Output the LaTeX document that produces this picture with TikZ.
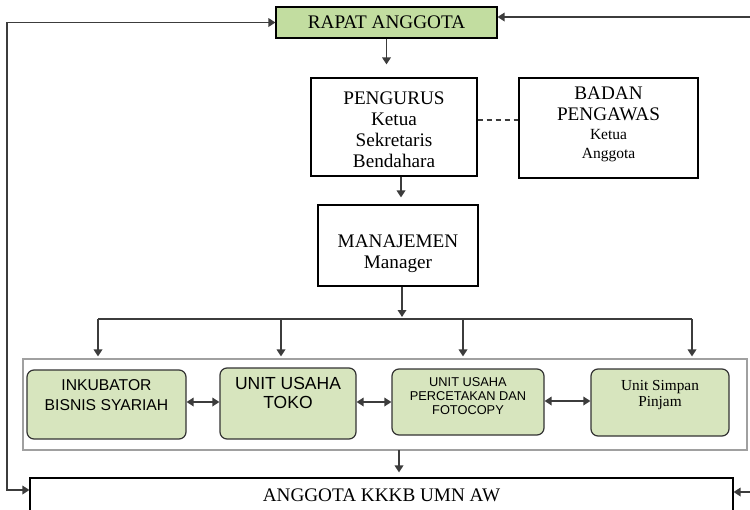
\documentclass[tikz,border=0pt]{standalone}
\usepackage{fontspec}
\setmainfont{Liberation Serif}
\newfontfamily\arialf{Liberation Sans}
\usetikzlibrary{arrows.meta}

\definecolor{rapatgreen}{RGB}{194,221,160}
\definecolor{unitgreen}{RGB}{215,229,190}
\definecolor{linegray}{RGB}{60,60,60}
\definecolor{framegray}{RGB}{160,160,160}

\tikzset{
  box/.style={draw=black, line width=1.1pt, inner sep=0pt, align=center},
  unit/.style={draw=black!80, line width=1.2pt, rounded corners=7pt, fill=unitgreen, inner sep=0pt},
  utext/.style={align=center, inner sep=0pt},
  conn/.style={draw=linegray, line width=1.7pt},
  arr/.style={conn, -{Triangle[length=7pt,width=8.5pt]}},
  biarr/.style={conn, {Triangle[length=7pt,width=8.5pt]}-{Triangle[length=7pt,width=8.5pt]}},
  serifbig/.style={font=\fontsize{19.2}{21}\selectfont},
}

\begin{document}
\begin{tikzpicture}[x=1pt,y=-1pt]
\clip (0,0) rectangle (750,509);
\fill[white] (0,0) rectangle (750,509);

% governing bodies
\node[box, fill=rapatgreen, minimum width=221pt, minimum height=31pt, serifbig]
  (rapat) at (386.5,22.5) {RAPAT ANGGOTA};
\node[box, minimum width=166pt, minimum height=98pt] (pengurus) at (394,127) {};
\node[utext, serifbig] (pengurusT) at (394,129.5)
  {PENGURUS\\Ketua\\Sekretaris\\Bendahara};
\node[box, minimum width=179pt, minimum height=100pt]
  (badan) at (608.5,128) {};
\node[utext, serifbig] (badanT) at (608.5,103.5)
  {BADAN\\PENGAWAS};
\node[utext, font=\fontsize{15.5}{19}\selectfont] (badanS) at (608.5,146)
  {Ketua\\Anggota};
\node[box, minimum width=160pt, minimum height=81pt] (manaj) at (398,245.5) {};
\node[utext, serifbig] (manajT) at (398,254)
  {MANAJEMEN\\Manager};

% business units
\node[draw=framegray, line width=1.1pt, minimum width=724pt, minimum height=91pt, inner sep=0pt]
  (outer) at (385,404.5) {};
\node[unit, minimum width=159pt, minimum height=69pt] (ink) at (106.5,404.5) {};
\node[utext, font=\arialf\fontsize{15.7}{19.5}\selectfont] (inkT) at (106.5,395)
  {INKUBATOR\\BISNIS SYARIAH};
\node[unit, minimum width=136pt, minimum height=71pt] (toko) at (288,403.5) {};
\node[utext, font=\arialf\fontsize{17.5}{19}\selectfont] (tokoT) at (288,393)
  {UNIT USAHA\\TOKO};
\node[unit, minimum width=152pt, minimum height=66pt] (perc) at (468,402) {};
\node[utext, font=\arialf\fontsize{12.8}{14}\selectfont] (percT) at (468,396)
  {UNIT USAHA\\PERCETAKAN DAN\\FOTOCOPY};
\node[unit, minimum width=138pt, minimum height=67pt] (simp) at (660,402.5) {};
\node[utext, font=\fontsize{15.3}{16.5}\selectfont] (simpT) at (660,395)
  {Unit Simpan\\Pinjam};

% members
\node[box, minimum width=703pt, minimum height=34pt, serifbig]
  (anggota) at (381.5,495) {ANGGOTA KKKB UMN AW};

% loop coordinates and distribution bus
\coordinate (lt) at (7,22.5);
\coordinate (lb) at (7,490);
\coordinate (rt) at (765,17);
\coordinate (rb) at (765,492);
\coordinate (busL) at (98,319);
\coordinate (busR) at (692,319);
\coordinate (tapM) at (402,319);
\coordinate (tap2) at (281,319);
\coordinate (tap3) at (463,319);
\coordinate (outTap) at (399,450);

% vertical chain
\draw[arr, shorten >=13pt] (rapat.south) -- (rapat.south |- pengurus.north);
\draw[arr, shorten >=7pt] ([xshift=3pt]manaj.north |- pengurus.south) -- ([xshift=3pt]manaj.north);
\draw[conn, dash pattern=on 5pt off 4pt, line width=1.1pt] (pengurus.east |- 0,120) -- (badan.west |- 0,120);
\draw[arr, shorten >=2pt] (tapM |- manaj.south) -- (tapM);

% bus and drops to the units
\draw[conn] (busL) -- (busR);
\draw[arr, shorten >=2pt] (busL) -- (busL |- outer.north);
\draw[arr, shorten >=2pt] (tap2) -- (tap2 |- outer.north);
\draw[arr, shorten >=2pt] (tap3) -- (tap3 |- outer.north);
\draw[arr, shorten >=2pt] (busR) -- (busR |- outer.north);

% links between units
\draw[biarr] (ink.east |- 0,402) -- (toko.west |- 0,402);
\draw[biarr] (toko.east |- 0,402) -- (perc.west |- 0,402);
\draw[biarr] (perc.east |- 0,401) -- (simp.west |- 0,401);

% units to members
\draw[arr, shorten >=5pt] (outTap) -- (outTap |- anggota.north);

% feedback loops between members and the general meeting
\draw[biarr] (rapat.west) -- (lt) -- (lb) -- (lb -| anggota.west);
\draw[biarr] (rapat.east |- rt) -- (rt) -- (rb) -- (rb -| anggota.east);
\end{tikzpicture}
\end{document}
